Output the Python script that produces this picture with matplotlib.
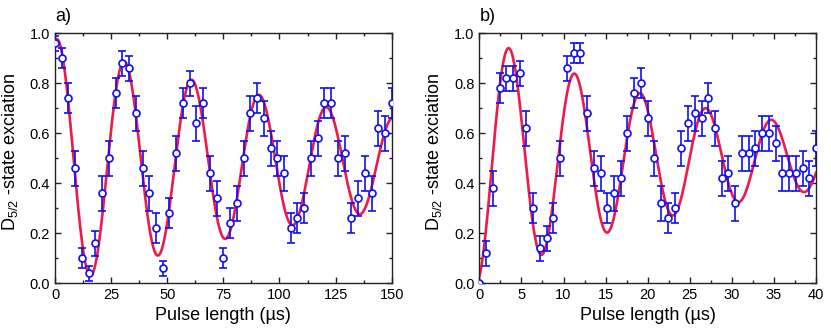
import numpy as np
import matplotlib
matplotlib.use("Agg")
import matplotlib.pyplot as plt
from matplotlib.ticker import MultipleLocator

plt.rcParams["font.family"] = ["Liberation Sans", "DejaVu Sans"]
plt.rcParams["mathtext.fontset"] = "custom"
plt.rcParams["mathtext.rm"] = "Liberation Sans"
plt.rcParams["mathtext.it"] = "Liberation Sans:italic"

# panel a) data: pulse length (us), excitation, error
t_a = [0, 3, 6, 9, 12, 15, 18, 21, 24, 27, 30, 33, 36, 39, 42, 45, 48, 51, 54, 57,
       60, 63, 66, 69, 72, 75, 78, 81, 84, 87, 90, 93, 96, 99, 102, 105, 108, 111,
       114, 117, 120, 123, 126, 129, 132, 135, 138, 141, 144, 147, 150]
p_a = [0.96, 0.90, 0.74, 0.46, 0.10, 0.04, 0.16, 0.36, 0.50, 0.76, 0.88, 0.86, 0.68,
       0.46, 0.36, 0.22, 0.06, 0.28, 0.52, 0.72, 0.80, 0.64, 0.72, 0.44, 0.34, 0.10,
       0.24, 0.32, 0.50, 0.68, 0.74, 0.66, 0.54, 0.50, 0.44, 0.22, 0.26, 0.30, 0.50,
       0.58, 0.72, 0.72, 0.50, 0.52, 0.26, 0.34, 0.44, 0.36, 0.62, 0.60, 0.72]
err_a = [0.03, 0.04, 0.06, 0.07, 0.04, 0.03, 0.05, 0.07, 0.07, 0.06, 0.05, 0.05, 0.07,
         0.07, 0.07, 0.06, 0.03, 0.06, 0.07, 0.06, 0.05, 0.07, 0.06, 0.07, 0.07, 0.04,
         0.06, 0.07, 0.07, 0.07, 0.06, 0.07, 0.07, 0.07, 0.07, 0.06, 0.06, 0.06, 0.07,
         0.07, 0.06, 0.06, 0.07, 0.07, 0.06, 0.07, 0.07, 0.07, 0.07, 0.07, 0.06]

# panel b) data
t_b = [0.0, 0.8, 1.6, 2.4, 3.2, 4.0, 4.8, 5.6, 6.4, 7.2, 8.0, 8.8, 9.6, 10.4, 11.2,
       12.0, 12.8, 13.6, 14.4, 15.2, 16.0, 16.8, 17.6, 18.4, 19.2, 20.0, 20.8, 21.6,
       22.4, 23.2, 24.0, 24.8, 25.6, 26.4, 27.2, 28.0, 28.8, 29.6, 30.4, 31.2, 32.0,
       32.8, 33.6, 34.4, 35.2, 36.0, 36.8, 37.6, 38.4, 39.2, 40.0]
p_b = [0.00, 0.12, 0.38, 0.78, 0.82, 0.82, 0.84, 0.62, 0.30, 0.14, 0.18, 0.26, 0.50,
       0.86, 0.92, 0.92, 0.68, 0.46, 0.44, 0.30, 0.36, 0.42, 0.60, 0.76, 0.80, 0.66,
       0.50, 0.32, 0.26, 0.30, 0.54, 0.64, 0.68, 0.66, 0.74, 0.62, 0.42, 0.44, 0.32,
       0.52, 0.52, 0.54, 0.60, 0.60, 0.56, 0.44, 0.44, 0.44, 0.46, 0.42, 0.54]
err_b = [0.00, 0.05, 0.07, 0.06, 0.05, 0.05, 0.05, 0.07, 0.06, 0.05, 0.05, 0.06, 0.07,
         0.05, 0.04, 0.04, 0.07, 0.07, 0.07, 0.06, 0.07, 0.07, 0.07, 0.06, 0.06, 0.07,
         0.07, 0.07, 0.06, 0.06, 0.07, 0.07, 0.07, 0.07, 0.06, 0.07, 0.07, 0.07, 0.07,
         0.07, 0.07, 0.07, 0.07, 0.07, 0.07, 0.07, 0.07, 0.07, 0.07, 0.07, 0.07]

# damped Rabi fit: offset, amplitude, decay time, period, phase
fit_a = (0.48, -0.50, 151.0, 30.0, -0.2)
fit_b = (0.50, 0.496, 29.7, 7.8, 0.3)


def rabi(t, c, amp, tau, period, phi):
    return c - amp * np.exp(-t / tau) * np.cos(2 * np.pi * t / period + phi)


blue = "#1010f0"
red = "#ee1a4a"

fig = plt.figure(figsize=(8.31, 3.28), dpi=100)
ax_a = fig.add_axes([0.0662, 0.1363, 0.4052, 0.7622])
ax_b = fig.add_axes([0.5768, 0.1363, 0.4052, 0.7622])

panels = [
    (ax_a, t_a, p_a, err_a, fit_a, 150, 25, "a)"),
    (ax_b, t_b, p_b, err_b, fit_b, 40, 5, "b)"),
]

for ax, t, p, e, fit, xmax, xstep, tag in panels:
    tt = np.linspace(0, xmax, 800)
    ax.plot(tt, rabi(tt, *fit), color=red, lw=1.9, zorder=2)
    ax.errorbar(t, p, yerr=e, fmt="o", ms=5, mfc="white", mec=blue, mew=1.2,
                ecolor=blue, elinewidth=1.2, capsize=3, capthick=1.2, zorder=3)
    ax.set_xlim(0, xmax)
    ax.set_ylim(0, 1.0)
    ax.xaxis.set_major_locator(MultipleLocator(xstep))
    ax.xaxis.set_minor_locator(MultipleLocator(xstep / 2))
    ax.yaxis.set_major_locator(MultipleLocator(0.2))
    ax.yaxis.set_minor_locator(MultipleLocator(0.1))
    ax.yaxis.set_major_formatter(matplotlib.ticker.FormatStrFormatter("%.1f"))
    ax.tick_params(which="both", direction="in", top=True, right=True,
                   width=1.0, colors="#222222", labelcolor="black", labelsize=10.5)
    ax.tick_params(which="major", length=4, pad=3.5)
    ax.tick_params(which="minor", length=2.3)
    for s in ax.spines.values():
        s.set_linewidth(1.0)
        s.set_color("#222222")
    ax.set_xlabel("Pulse length (\u00b5s)", fontsize=13, labelpad=3.5)
    ax.set_ylabel("D$_{5/2}$ -state exciation", fontsize=13)
    ax.yaxis.set_label_coords(-0.105, 0.526)
    ax.text(0.0, 1.035, tag, transform=ax.transAxes, fontsize=13, ha="left", va="bottom")

fig.savefig("out.png", dpi=100)
